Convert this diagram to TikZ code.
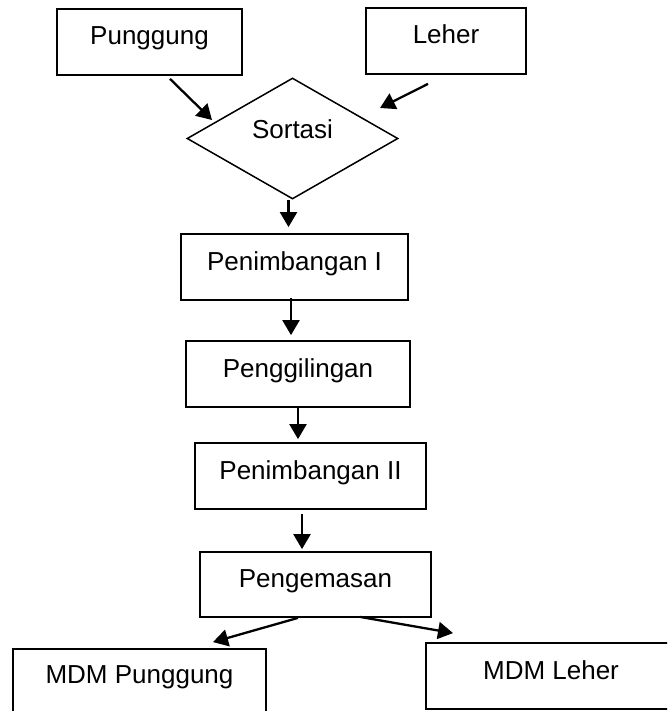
\documentclass[tikz,border=0pt]{standalone}
\usepackage{fontspec}
\setmainfont{Liberation Sans}
\usetikzlibrary{shapes.geometric,arrows.meta,calc}

\tikzset{
  box/.style={draw=black, line width=1.8pt, rectangle, inner sep=0pt,
    font=\fontsize{26}{31}\selectfont, text height=12pt, text depth=6pt},
  decision/.style={draw=black, line width=1.5pt, diamond, inner sep=0pt,
    font=\fontsize{26}{31}\selectfont, text height=9pt, text depth=9pt},
  flow/.style={line width=2.3pt, -{Triangle[length=15pt,width=17pt]}},
}

\begin{document}
\begin{tikzpicture}[x=1pt, y=-1pt]
  \useasboundingbox (0,0) rectangle (667,711);
  \clip (0,0) rectangle (667,711);

  % inputs
  \node[box, minimum width=185pt, minimum height=66pt] (punggung) at (149.5,42) {Punggung};
  \node[box, minimum width=160pt, minimum height=66pt] (leher) at (446,41) {Leher};

  % sorting step
  \node[decision, minimum width=211pt, minimum height=121pt] (sortasi) at (292.5,138.5) {Sortasi};

  % processing chain
  \node[box, minimum width=227pt, minimum height=66pt] (pen1) at (294.5,267) {Penimbangan I};
  \node[box, minimum width=224pt, minimum height=66pt] (giling) at (298,374) {Penggilingan};
  \node[box, minimum width=231pt, minimum height=66pt] (pen2) at (310.5,476) {Penimbangan II};
  \node[box, minimum width=231pt, minimum height=65pt] (kemas) at (315.5,584.5) {Pengemasan};

  % outputs
  \node[box, minimum width=253pt, minimum height=70pt, text height=8pt, text depth=10pt] (mdmp) at (139.5,684) {MDM Punggung};
  \node[box, minimum width=250pt, minimum height=66pt] (mdml) at (551,676) {MDM Leher};

  % connectors
  \draw[flow] ($(punggung.south)+(20.5,3)$) -- ($(sortasi.center)+(-80.5,-18.5)$);
  \draw[flow] ($(leher.south)+(-18,9)$) -- ($(sortasi.center)+(87.5,-30.5)$);
  \draw[flow] ($(sortasi.south)+(-4,0)$) -- ($(pen1.north)+(-6,-6)$);
  \draw[flow] ($(pen1.south)+(-3.5,-3)$) -- ($(giling.north)+(-7,-5)$);
  \draw[flow] (giling.south) -- ($(pen2.north)+(-12.5,-3)$);
  \draw[flow] ($(pen2.south)+(-8.5,4)$) -- ($(kemas.north)+(-13.5,-2)$);
  \draw[flow] ($(kemas.south)+(-17.5,0)$) -- ($(mdmp.north)+(73.5,-6)$);
  \draw[flow] ($(kemas.south)+(44.5,-1)$) -- ($(mdml.north)+(-98,-9)$);
\end{tikzpicture}
\end{document}
